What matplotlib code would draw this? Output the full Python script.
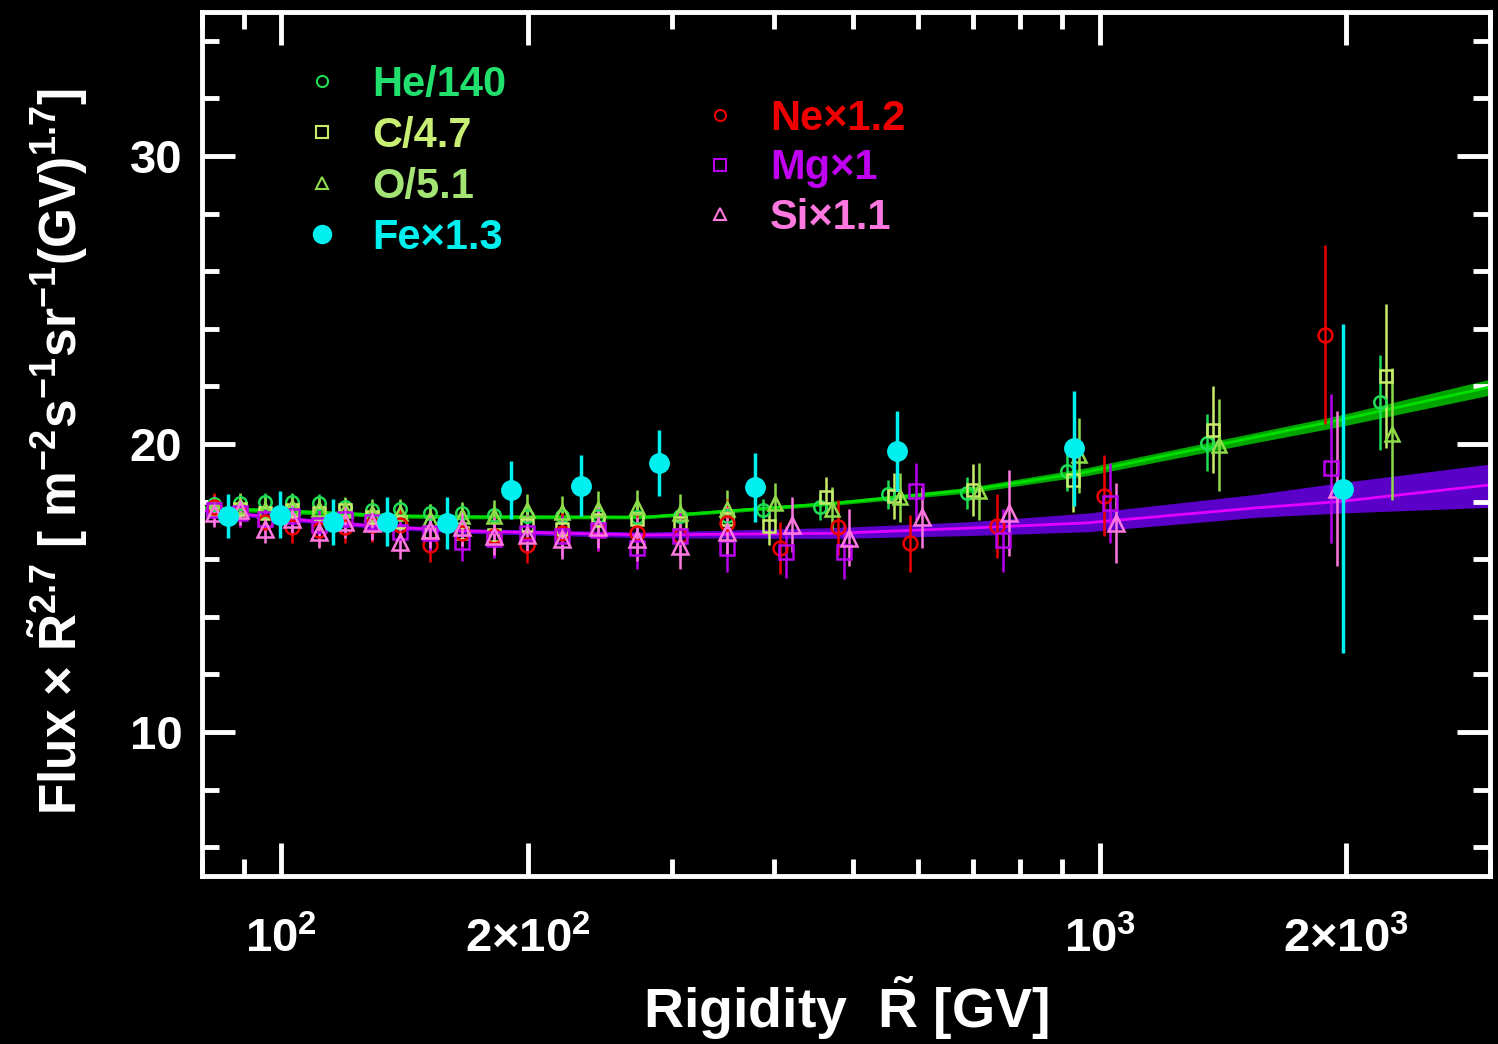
import numpy as np
import matplotlib
matplotlib.use('Agg')
import matplotlib.pyplot as plt
from matplotlib.lines import Line2D

plt.rcParams['font.family'] = ['Liberation Sans', 'DejaVu Sans']
plt.rcParams['font.weight'] = 'bold'
plt.rcParams['axes.labelweight'] = 'bold'
plt.rcParams['mathtext.fontset'] = 'custom'
plt.rcParams['mathtext.rm'] = 'Liberation Sans:bold'
plt.rcParams['mathtext.it'] = 'Liberation Sans:bold'
plt.rcParams['mathtext.bf'] = 'Liberation Sans:bold'
plt.rcParams['mathtext.sf'] = 'Liberation Sans:bold'

# rigidity bins [GV] (He, C, O share bins; Ne, Mg, Si share bins; Fe its own)
R_light = [82.8, 89.1, 95.6, 103.1, 111.3, 119.8, 129.2, 139.8, 152.0, 166.4, 182.1, 199.8,
           220.5, 244.1, 272.3, 307.4, 350.9, 393.9, 462.4, 560.0, 699.3, 926.8, 1374, 2237]
R_heavy = [82.8, 89.1, 95.6, 103.1, 111.3, 119.8, 129.2, 139.8, 152.0, 166.4, 182.1, 199.8,
           220.5, 244.1, 272.3, 307.4, 350.9, 413.2, 486.4, 595.7, 761.2, 1028.5, 1916]
R_fe = [86.2, 99.7, 115.8, 134.8, 159.6, 191.0, 232.6, 289.8, 379.7, 564.7, 929.3, 1982]

# flux x R^2.7 (scaled)
he = [17.9, 17.95, 18.0, 18.0, 17.95, 17.8, 17.7, 17.75, 17.6, 17.6, 17.55, 17.5,
      17.5, 17.5, 17.45, 17.5, 17.5, 17.7, 17.8, 18.25, 18.3, 19.05, 20.05, 21.45]
he_err = [0.3, 0.3, 0.3, 0.3, 0.3, 0.3, 0.3, 0.3, 0.3, 0.3, 0.3, 0.3,
          0.35, 0.35, 0.35, 0.4, 0.4, 0.4, 0.45, 0.5, 0.55, 0.7, 1.0, 1.65]
c = [17.7, 17.75, 17.6, 17.7, 17.6, 17.7, 17.45, 17.3, 16.95, 16.9, 16.85, 17.2,
     17.05, 17.35, 17.4, 17.25, 17.4, 17.15, 18.15, 18.2, 18.4, 18.75, 20.5, 22.35]
c_err = [0.4, 0.4, 0.4, 0.4, 0.4, 0.4, 0.45, 0.45, 0.45, 0.45, 0.5, 0.5,
         0.5, 0.55, 0.55, 0.6, 0.6, 0.65, 0.7, 0.8, 0.9, 1.1, 1.5, 2.5]
o = [17.8, 17.85, 17.7, 17.8, 17.75, 17.7, 17.6, 17.6, 17.4, 17.5, 17.5, 17.7,
     17.65, 17.75, 17.8, 17.6, 17.75, 17.95, 17.75, 18.15, 18.35, 19.6, 19.95, 20.35]
o_err = [0.45, 0.45, 0.45, 0.45, 0.45, 0.45, 0.5, 0.5, 0.5, 0.5, 0.55, 0.55,
         0.55, 0.6, 0.6, 0.65, 0.65, 0.7, 0.75, 0.85, 1.0, 1.3, 1.6, 2.3]
ne = [17.8, 17.6, 17.3, 17.1, 17.0, 17.1, 17.2, 17.2, 16.5, 16.9, 16.8, 16.5,
      16.9, 17.0, 16.9, 16.8, 17.25, 16.4, 17.1, 16.55, 17.15, 18.2, 23.8]
ne_err = [0.5, 0.5, 0.5, 0.55, 0.55, 0.55, 0.6, 0.6, 0.6, 0.65, 0.65, 0.65,
          0.7, 0.7, 0.75, 0.8, 0.85, 0.9, 0.95, 1.0, 1.1, 1.4, 3.1]
mg = [17.7, 17.6, 17.4, 17.5, 17.2, 17.4, 17.3, 16.95, 16.9, 16.6, 16.7, 16.9,
      16.8, 17.0, 16.4, 16.8, 16.4, 16.26, 16.26, 18.35, 16.65, 17.95, 19.15]
mg_err = [0.5, 0.5, 0.5, 0.55, 0.55, 0.55, 0.6, 0.6, 0.6, 0.65, 0.65, 0.65,
          0.7, 0.7, 0.75, 0.8, 0.85, 0.9, 0.95, 1.0, 1.1, 1.4, 2.6]
si = [17.6, 17.7, 17.05, 17.4, 16.95, 17.3, 17.25, 16.6, 17.0, 17.1, 16.8, 16.85,
      16.7, 17.1, 16.7, 16.45, 16.95, 17.2, 16.75, 17.45, 17.6, 17.25, 18.45]
si_err = [0.5, 0.5, 0.5, 0.55, 0.55, 0.55, 0.6, 0.6, 0.6, 0.65, 0.65, 0.65,
          0.7, 0.7, 0.75, 0.8, 0.85, 0.95, 1.0, 1.05, 1.5, 1.4, 2.7]
fe = [17.5, 17.55, 17.3, 17.3, 17.25, 18.4, 18.55, 19.35, 18.5, 19.75, 19.85, 18.45]
fe_err = [0.75, 0.8, 0.8, 0.85, 0.9, 1.0, 1.05, 1.15, 1.2, 1.4, 2.0, 5.7]

# fits (line and band edges)
fit_R = [80, 115, 139, 167, 278, 477, 694, 965, 1552, 1963, 3000]
fit_light = [17.78, 17.6, 17.5, 17.47, 17.46, 17.95, 18.4, 19.03, 20.24, 20.83, 21.98]
fit_light_lo = [17.7, 17.52, 17.43, 17.4, 17.4, 17.88, 18.3, 18.9, 20.05, 20.6, 21.7]
fit_light_hi = [17.86, 17.68, 17.57, 17.54, 17.52, 18.02, 18.5, 19.18, 20.4, 21.0, 22.25]
fit_heavy = [17.7, 17.26, 17.1, 16.98, 16.84, 16.9, 17.08, 17.26, 17.78, 18.0, 18.58]
fit_heavy_lo = [17.62, 17.18, 17.02, 16.9, 16.74, 16.72, 16.82, 16.95, 17.45, 17.6, 17.8]
fit_heavy_hi = [17.78, 17.34, 17.18, 17.06, 16.94, 17.1, 17.3, 17.6, 18.25, 18.65, 19.3]

labels_light = ['He/140', 'C/4.7', 'O/5.1', 'Fe\u00d71.3']
labels_heavy = ['Ne\u00d71.2', 'Mg\u00d71', 'Si\u00d71.1']

col_he, col_c, col_o, col_fe = '#1ede55', '#c8ec6a', '#8fdc4a', '#00f0f0'
col_ne, col_mg, col_si = '#ee0000', '#b800ee', '#ff78e0'
txt_he, txt_c, txt_o, txt_mg = '#22e06e', '#c8ee74', '#a4e474', '#c000f0'

fig = plt.figure(figsize=(14.98, 10.44), dpi=100, facecolor='black')
ax = fig.add_axes([0.1348, 0.161, 0.86, 0.8275], facecolor='black')
ax.set_xscale('log')

# fit bands + lines
ax.fill_between(fit_R, fit_heavy_lo, fit_heavy_hi, color='#5a00c8', lw=0, zorder=1)
ax.plot(fit_R, fit_heavy, color='#e200ff', lw=2, zorder=2)
ax.fill_between(fit_R, fit_light_lo, fit_light_hi, color='#00d000', alpha=0.8, lw=0, zorder=1)
ax.plot(fit_R, fit_light, color='#00e000', lw=2, zorder=2)


def shifted(R, k):
    # spread the species a bit at high rigidity so they don't overlap
    R = np.array(R, dtype=float)
    return R * np.where(R > 370, 10 ** (k * 0.0073), 1.0)


series = [
    (R_light, he, he_err, -1, 'o', col_he, 9),
    (R_light, c, c_err, 0, 's', col_c, 9),
    (R_light, o, o_err, 1, '^', col_o, 10),
    (R_heavy, ne, ne_err, -1, 'o', col_ne, 10),
    (R_heavy, mg, mg_err, 0, 's', col_mg, 10),
    (R_heavy, si, si_err, 1, '^', col_si, 11),
]
for R, y, e, k, m, col, ms in series:
    ax.errorbar(shifted(R, k), y, yerr=e, fmt=m, mfc='none', mec=col, ms=ms,
                mew=1.8, ecolor=col, elinewidth=1.8, capsize=0, zorder=3)
ax.errorbar(R_fe, fe, yerr=fe_err, fmt='o', mfc=col_fe, mec=col_fe, ms=14,
            ecolor=col_fe, elinewidth=2.5, capsize=0, zorder=4)

ax.set_xlim(80, 3000)
ax.set_ylim(5, 35)

# axes styling
for sp in ax.spines.values():
    sp.set_color('white')
    sp.set_linewidth(3.5)
ax.tick_params(which='both', direction='in', colors='white', top=True, right=True,
               width=3.5)
ax.tick_params(which='major', length=24, labelsize=34)
ax.tick_params(axis='x', which='major', pad=30)
ax.tick_params(axis='y', which='major', pad=14)
ax.tick_params(which='minor', length=12)
ax.set_xticks([100, 200, 1000, 2000])
ax.set_xticklabels([r'$10^{2}$', r'$2{\times}10^{2}$', r'$10^{3}$', r'$2{\times}10^{3}$'])
ax.xaxis.set_minor_locator(matplotlib.ticker.LogLocator(base=10, subs=np.arange(2, 10)))
ax.xaxis.set_minor_formatter(matplotlib.ticker.NullFormatter())
ax.set_yticks([10, 20, 30])
ax.yaxis.set_minor_locator(matplotlib.ticker.MultipleLocator(2))
for lab in ax.get_xticklabels() + ax.get_yticklabels():
    lab.set_color('white')
    lab.set_fontweight('bold')

ax.set_xlabel(r'Rigidity  $\tilde{R}$ [GV]', color='white', fontsize=40,
              fontweight='bold', labelpad=8)
ax.set_ylabel(r'Flux $\times$ $\tilde{R}^{2.7}$ [ m$^{-2}$s$^{-1}$sr$^{-1}$(GV)$^{1.7}$]',
              color='white', fontsize=37, fontweight='bold')
ax.yaxis.set_label_coords(-0.087, 0.491)

# legends
h1 = [Line2D([], [], ls='none', marker='o', mfc='none', mec=col_he, ms=8, mew=1.5),
      Line2D([], [], ls='none', marker='s', mfc='none', mec=col_c, ms=8, mew=1.5),
      Line2D([], [], ls='none', marker='^', mfc='none', mec=col_o, ms=8, mew=1.5),
      Line2D([], [], ls='none', marker='o', mfc=col_fe, mec=col_fe, ms=13)]
leg1 = ax.legend(h1, labels_light, loc='upper left', bbox_to_anchor=(0.048, 0.982),
                 frameon=False, fontsize=30, handlelength=1.0, handletextpad=0.7,
                 labelspacing=0.26, labelcolor=[txt_he, txt_c, txt_o, col_fe])
ax.add_artist(leg1)
h2 = [Line2D([], [], ls='none', marker='o', mfc='none', mec=col_ne, ms=8, mew=1.5),
      Line2D([], [], ls='none', marker='s', mfc='none', mec=col_mg, ms=8, mew=1.5),
      Line2D([], [], ls='none', marker='^', mfc='none', mec=col_si, ms=8, mew=1.5)]
ax.legend(h2, labels_heavy, loc='upper left', bbox_to_anchor=(0.357, 0.943),
          frameon=False, fontsize=30, handlelength=1.0, handletextpad=0.7,
          labelspacing=0.23, labelcolor=[col_ne, txt_mg, col_si])

fig.savefig('out.png', dpi=100, facecolor='black')
